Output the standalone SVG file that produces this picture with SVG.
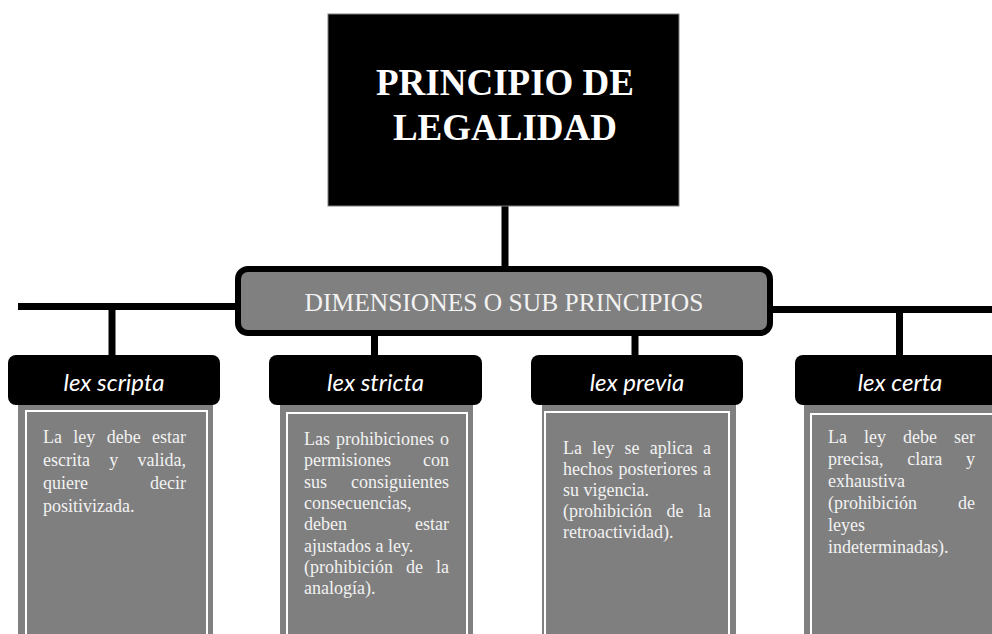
<svg xmlns="http://www.w3.org/2000/svg" width="992" height="634" viewBox="0 0 992 634">
<style>
.ln{stroke:#000;stroke-width:7;fill:none}
.hdr{fill:#000}
.htx{font-family:Lato,"Open Sans",sans-serif;font-style:italic;font-size:24px;fill:#fff;text-anchor:middle}
.body{fill:#808080}
.inner{fill:#7f7f7f;stroke:#fff;stroke-width:2}
.bt{font-family:"Liberation Serif","Times New Roman",serif;font-size:18px;fill:#f2f2f2}
.e{text-anchor:end}
</style>
<rect width="992" height="634" fill="#fff"/>
<g id="connectors">
<line class="ln" x1="505" y1="206" x2="505" y2="268"/>
<line class="ln" x1="18" y1="306.5" x2="238" y2="306.5"/>
<line class="ln" x1="770" y1="309.5" x2="992" y2="309.5"/>
<line class="ln" x1="112" y1="306" x2="112" y2="357"/>
<line class="ln" x1="374.5" y1="336" x2="374.5" y2="357"/>
<line class="ln" x1="635" y1="336" x2="635" y2="357"/>
<line class="ln" x1="899.5" y1="309" x2="899.5" y2="357"/>
</g>
<g id="title">
<rect x="328" y="14" width="351" height="192" fill="#000" stroke="#7f7f7f" stroke-width="1"/>
<text x="505" y="95" font-family="'Liberation Serif',serif" font-weight="bold" font-size="37" fill="#fff" text-anchor="middle">PRINCIPIO DE</text>
<text x="505" y="140" font-family="'Liberation Serif',serif" font-weight="bold" font-size="37" fill="#fff" text-anchor="middle">LEGALIDAD</text>
</g>
<g id="dimensiones">
<rect x="238" y="269" width="532" height="64" rx="10" fill="#808080" stroke="#000" stroke-width="6"/>
<text x="504" y="311" font-family="'Liberation Serif',serif" font-size="25.5" fill="#f2f2f2" text-anchor="middle">DIMENSIONES O SUB PRINCIPIOS</text>
</g>
<g id="lex-scripta">
<rect class="body" x="18" y="400" width="195" height="240"/>
<rect class="inner" x="26" y="411" width="181" height="230"/>
<rect class="hdr" x="8" y="355" width="212" height="50" rx="8"/>
<text class="htx" x="114" y="391">lex scripta</text>
<text class="bt" y="443"><tspan x="43">La</tspan><tspan x="73.3">ley</tspan><tspan x="106.7">debe</tspan><tspan x="186" class="e">estar</tspan></text>
<text class="bt" y="466"><tspan x="43">escrita</tspan><tspan x="109.3">y</tspan></text>
<text class="bt e" x="186" y="466">valida,</text>
<text class="bt" x="43" y="489">quiere</text>
<text class="bt e" x="186" y="489">decir</text>
<text class="bt" x="43" y="512">positivizada.</text>
</g>
<g id="lex-stricta">
<rect class="body" x="280" y="400" width="193" height="240"/>
<rect class="inner" x="287" y="413" width="180" height="230"/>
<rect class="hdr" x="269" y="355" width="213" height="50" rx="8"/>
<text class="htx" x="375.5" y="391">lex stricta</text>
<text class="bt" y="445"><tspan x="304">Las</tspan><tspan x="336">prohibiciones</tspan></text>
<text class="bt e" x="449" y="445">o</text>
<text class="bt" x="304" y="466.3">permisiones</text>
<text class="bt e" x="449" y="466.3">con</text>
<text class="bt" x="304" y="487.6">sus</text>
<text class="bt e" x="449" y="487.6">consiguientes</text>
<text class="bt" x="304" y="508.9">consecuencias,</text>
<text class="bt" x="304" y="530.2">deben</text>
<text class="bt e" x="449" y="530.2">estar</text>
<text class="bt" x="304" y="551.5">ajustados a ley.</text>
<text class="bt" y="572.8"><tspan x="304">(prohibición</tspan><tspan x="406">de</tspan></text>
<text class="bt e" x="449" y="572.8">la</text>
<text class="bt" x="304" y="594.1">analogía).</text>
</g>
<g id="lex-previa">
<rect class="body" x="542" y="400" width="194" height="240"/>
<rect class="inner" x="545" y="412" width="184" height="230"/>
<rect class="hdr" x="531" y="355" width="212" height="50" rx="8"/>
<text class="htx" x="637" y="391">lex previa</text>
<text class="bt" y="454"><tspan x="563">La</tspan><tspan x="592.3">ley</tspan><tspan x="624.5">se</tspan><tspan x="649.8">aplica</tspan></text>
<text class="bt e" x="711" y="454">a</text>
<text class="bt" y="475"><tspan x="563">hechos</tspan><tspan x="618.5">posteriores</tspan></text>
<text class="bt e" x="711" y="475">a</text>
<text class="bt" x="563" y="496">su vigencia.</text>
<text class="bt" y="517"><tspan x="563">(prohibición</tspan><tspan x="666.5">de</tspan></text>
<text class="bt e" x="711" y="517">la</text>
<text class="bt" x="563" y="538">retroactividad).</text>
</g>
<g id="lex-certa">
<rect class="body" x="804" y="400" width="200" height="240"/>
<rect class="inner" x="811" y="414" width="190" height="230"/>
<rect class="hdr" x="795" y="355" width="212" height="50" rx="8"/>
<text class="htx" x="900" y="391">lex certa</text>
<text class="bt" y="443"><tspan x="828">La</tspan><tspan x="864">ley</tspan><tspan x="903">debe</tspan></text>
<text class="bt e" x="975" y="443">ser</text>
<text class="bt" y="465"><tspan x="828">precisa,</tspan><tspan x="907.3">clara</tspan></text>
<text class="bt e" x="975" y="465">y</text>
<text class="bt" x="828" y="487">exhaustiva</text>
<text class="bt" x="828" y="509">(prohibición</text>
<text class="bt e" x="975" y="509">de</text>
<text class="bt" x="828" y="531">leyes</text>
<text class="bt" x="828" y="553">indeterminadas).</text>
</g>
</svg>
